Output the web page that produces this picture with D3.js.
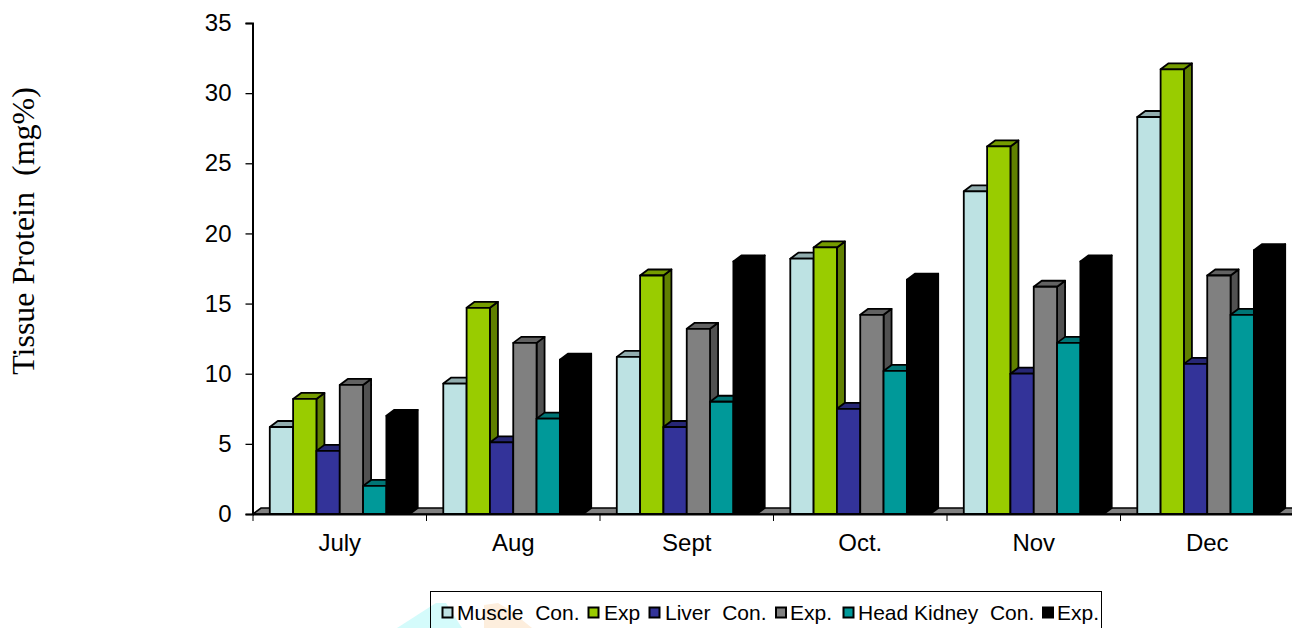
<!DOCTYPE html>
<html>
<head>
<meta charset="utf-8">
<style>
html,body{margin:0;padding:0;background:#fff;overflow:hidden}
svg{display:block}
text{font-family:"Liberation Sans",Arial,sans-serif;fill:#000}
</style>
<script src="https://cdnjs.cloudflare.com/ajax/libs/d3/7.8.5/d3.min.js"></script>
</head>
<body>
<svg id="chart" width="1292" height="628"></svg>
<script>
const months = ["July", "Aug", "Sept", "Oct.", "Nov", "Dec"];
const seriesNames = ["Muscle  Con.", "Exp", "Liver  Con.", "Exp.", "Head Kidney  Con.", "Exp."];
const muscleCon = [6.2, 9.3, 11.2, 18.2, 23.0, 28.3];
const muscleExp = [8.2, 14.7, 17.0, 19.0, 26.2, 31.7];
const liverCon = [4.5, 5.1, 6.2, 7.5, 10.0, 10.7];
const liverExp = [9.2, 12.2, 13.2, 14.2, 16.2, 17.0];
const kidneyCon = [2.0, 6.8, 8.0, 10.2, 12.2, 14.2];
const kidneyExp = [7.0, 11.0, 18.0, 16.7, 18.0, 18.8];
const yTicks = [0, 5, 10, 15, 20, 25, 30, 35];
const frontColors = ["#bde2e3", "#99cc00", "#333399", "#808080", "#009999", "#000000"];
const seriesValues = [muscleCon, muscleExp, liverCon, liverExp, kidneyCon, kidneyExp];

const svg = d3.select("#chart");
const depthX = 8, depthY = 6;

const x0 = d3.scaleBand().domain(months).range([253, 1294]);
const x1 = d3.scaleBand().domain(d3.range(seriesNames.length))
  .range([0, x0.bandwidth()]).paddingOuter(0.72).paddingInner(0);
const y = d3.scaleLinear().domain([0, 35]).range([514, 23]);

const shade = (c, k) => d3.rgb(c).darker(k).formatHex();
const line = d3.line();

// Soft tinted shapes behind the legend
svg.append("path").attr("fill", "#d4fbfb")
  .attr("d", line([[397, 628], [436, 603], [446, 603], [462, 628]]));
svg.append("path").attr("fill", "#fdeedd")
  .attr("d", line([[484, 628], [484, 605], [498, 603], [510, 610], [532, 628]]));

// Sloped floor of the plot
svg.append("path")
  .attr("d", line([[253, 514], [253 + depthX, 514 - depthY], [1292 + depthX, 514 - depthY], [1292, 514]]) + "Z")
  .attr("fill", "#808080").attr("stroke", "#000").attr("stroke-width", 1.6);

// Axes
const yAxis = d3.axisLeft(y).tickValues(yTicks).tickSize(7).tickPadding(14).tickFormat(d3.format("d"));
const gy = svg.append("g").attr("transform", "translate(252.5,0)").call(yAxis);
gy.selectAll("text").style("font-size", "24px");
gy.selectAll("line,path").attr("stroke", "#000").attr("stroke-width", 1.3);
gy.select("path").attr("stroke-width", 2);

const xAxis = d3.axisBottom(x0).tickSize(0).tickPadding(20);
const gx = svg.append("g").attr("transform", "translate(0,514)").call(xAxis);
gx.selectAll("text").style("font-size", "24px");
gx.select("path").attr("stroke", "#000").attr("stroke-width", 2).attr("d", "M253,0.5H1292");
gx.selectAll(".sep").data(months).enter().append("line").attr("class", "sep")
  .attr("x1", d => x0(d)).attr("x2", d => x0(d)).attr("y1", 0).attr("y2", 7)
  .attr("stroke", "#000").attr("stroke-width", 1);

// 3D bars, group by group, left to right so neighbours overlap correctly
months.forEach((m, mi) => {
  const g = svg.append("g");
  seriesValues.forEach((vals, si) => {
    const xl = x0(m) + x1(si), w = x1.bandwidth();
    const yt = y(vals[mi]), yb = y(0);
    const c = frontColors[si];
    const bar = g.append("g").attr("stroke", "#000").attr("stroke-width", 1.8).attr("stroke-linejoin", "round");
    bar.append("path").attr("fill", si === 5 ? "#000" : shade(c, 1.3))
      .attr("d", line([[xl + w, yb], [xl + w + depthX, yb - depthY], [xl + w + depthX, yt - depthY], [xl + w, yt]]) + "Z");
    bar.append("path").attr("fill", si === 5 ? "#000" : shade(c, 0.75))
      .attr("d", line([[xl, yt], [xl + depthX, yt - depthY], [xl + w + depthX, yt - depthY], [xl + w, yt]]) + "Z");
    bar.append("rect").attr("x", xl).attr("y", yt).attr("width", w).attr("height", yb - yt).attr("fill", c);
  });
});

// Y axis title
svg.append("text")
  .attr("transform", "translate(33.5,231) rotate(-90)")
  .attr("text-anchor", "middle")
  .style("font-family", '"Liberation Serif","Times New Roman",serif')
  .style("font-size", "32px")
  .style("white-space", "pre")
  .attr("xml:space", "preserve")
  .text("Tissue Protein  (mg%)");

// Legend, its lower edge cut by the page
svg.append("rect").attr("x", 430.5).attr("y", 591.5).attr("width", 671).attr("height", 60)
  .attr("fill", "none").attr("stroke", "#000").attr("stroke-width", 1);
const legendSwatchX = [442.5, 588.5, 649.5, 776, 843.5, 1043];
const legendTextX = [457, 604, 665, 790, 858, 1057];
seriesNames.forEach((name, i) => {
  svg.append("rect").attr("x", legendSwatchX[i]).attr("y", 607.5).attr("width", 10).attr("height", 10)
    .attr("fill", frontColors[i]).attr("stroke", "#000").attr("stroke-width", 2);
  svg.append("text").attr("x", legendTextX[i]).attr("y", 620)
    .style("font-size", "21px").style("white-space", "pre").attr("xml:space", "preserve").text(name);
});
</script>
</body>
</html>
